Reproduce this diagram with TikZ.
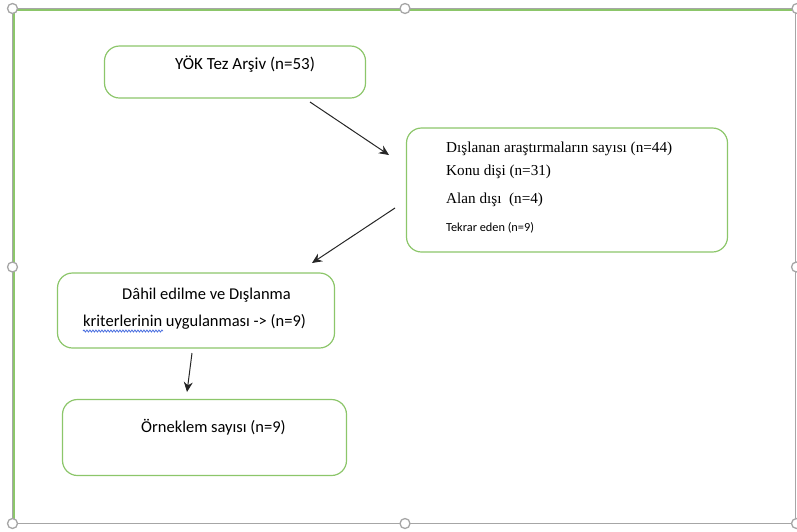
\documentclass[tikz,border=0pt]{standalone}
\usepackage{fontspec}
\setmainfont{Liberation Serif}
\newfontfamily\carlitofont{Carlito}
\usetikzlibrary{arrows.meta,decorations.pathmorphing}
\definecolor{boxgreen}{HTML}{8CC66A}
\definecolor{framegray}{HTML}{A6A6A6}
\definecolor{wavyblue}{HTML}{4A6FE0}
\tikzset{
  box/.style={draw=boxgreen, line width=1.2pt, rounded corners=15pt, fill=white, inner sep=0pt},
  conn/.style={draw=black!85, line width=1pt, -{Stealth[length=10pt,width=9pt]}},
  handle/.style={circle, draw=framegray, fill=white, line width=1.3pt, minimum size=10pt, inner sep=0pt},
  txt/.style={anchor=base west, inner sep=0pt},
}
\begin{document}
\begin{tikzpicture}[x=1pt,y=-1pt]
\useasboundingbox (0,0) rectangle (797,531);
% frame
\draw[boxgreen, line width=1.2pt] (14,10) -- (795,10);
\draw[boxgreen, line width=1.2pt] (14,10) -- (14,523);
\draw[framegray, line width=1.4pt] (12.5,8.5) rectangle (795.5,523.5);
\node[handle] (h1) at (12.5,8.5) {};
\node[handle] (h2) at (405,8.5) {};
\node[handle] (h3) at (797,8.5) {};
\node[handle] (h4) at (12.5,267) {};
\node[handle] (h5) at (796.5,267) {};
\node[handle] (h6) at (12.5,523.5) {};
\node[handle] (h7) at (405,523.5) {};
\node[handle] (h8) at (796.5,523.5) {};
% boxes
\node[box, minimum width=261pt, minimum height=52pt] (b1) at (235,72) {};
\node[box, minimum width=321pt, minimum height=124pt] (b2) at (567,190) {};
\node[box, minimum width=277pt, minimum height=75pt] (b3) at (196,310.5) {};
\node[box, minimum width=284pt, minimum height=76pt] (b4) at (204.5,437.5) {};
% texts
\node[txt, font=\carlitofont\fontsize{17}{19}\selectfont] (t1) at (175,69) {YÖK Tez Arşiv (n=53)};
\node[txt, font=\fontsize{15.2}{17}\selectfont] (t2) at (446,152) {Dışlanan araştırmaların sayısı (n=44)};
\node[txt, font=\fontsize{15.2}{17}\selectfont] (t3) at (446,175.5) {Konu dişi (n=31)};
\node[txt, font=\fontsize{15.2}{17}\selectfont] (t4) at (446,203.5) {Alan dışı\ \ (n=4)};
\node[txt, font=\carlitofont\fontsize{12.3}{14}\selectfont] (t5) at (446,231) {Tekrar eden (n=9)};
\node[txt, font=\carlitofont\fontsize{16.5}{18}\selectfont] (t6) at (122,299) {Dâhil edilme ve Dışlanma};
\node[txt, font=\carlitofont\fontsize{16.5}{18}\selectfont] (t7) at (83,326) {kriterlerinin uygulanması -> (n=9)};
\node[txt, font=\carlitofont\fontsize{16.5}{18}\selectfont] (t8) at (141,432) {Örneklem sayısı (n=9)};
% wavy underline
\coordinate (w1) at (83,331);
\coordinate (w2) at (163,331);
\draw[wavyblue, line width=0.8pt, decorate, decoration={snake, amplitude=1pt, segment length=3pt}] (w1) -- (w2);
% connectors
\coordinate (a1s) at (310,102);
\coordinate (a1e) at (389,155);
\coordinate (a2s) at (395,208);
\coordinate (a2e) at (312,263);
\coordinate (a3s) at (192,353);
\coordinate (a3e) at (187,392);
\draw[conn] (a1s) -- (a1e);
\draw[conn] (a2s) -- (a2e);
\draw[conn] (a3s) -- (a3e);
\end{tikzpicture}
\end{document}
